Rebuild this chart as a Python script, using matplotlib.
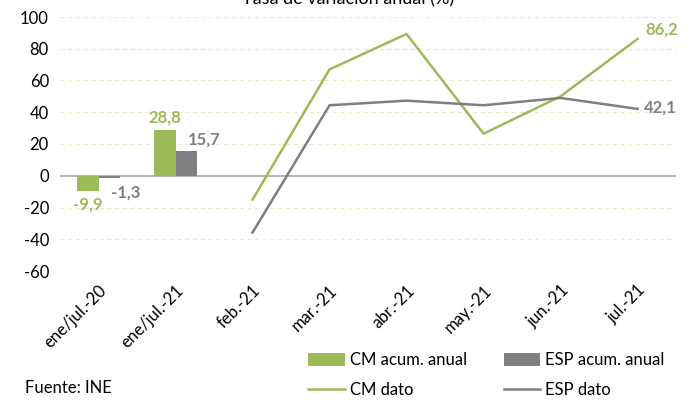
import matplotlib.pyplot as plt
import numpy as np

# categories and values
categories = ['ene/jul.-20', 'ene/jul.-21', 'feb.-21', 'mar.-21',
              'abr.-21', 'may.-21', 'jun.-21', 'jul.-21']
cm_acum = [-9.9, 28.8]
esp_acum = [-1.3, 15.7]
cm_dato = [-15.0, 67.0, 89.3, 26.5, 50.0, 86.2]
esp_dato = [-35.8, 44.4, 47.3, 44.4, 49.0, 42.1]

green = '#9BBB59'
grey = '#7F7F7F'

plt.rcParams['font.family'] = ['Lato', 'DejaVu Sans']
plt.rcParams['axes.unicode_minus'] = False

fig = plt.figure(figsize=(6.92, 4.0), dpi=100)
ax = fig.add_axes([0.0867, 0.3225, 0.8903, 0.635])

x = np.arange(len(categories))
bw = 0.28
bx = x[:len(cm_acum)]
b1 = ax.bar(bx - bw / 2, cm_acum, bw, color=green, zorder=3)
b2 = ax.bar(bx + bw / 2, esp_acum, bw, color=grey, zorder=3)

lx = x[2:]
l1, = ax.plot(lx, cm_dato, color=green, lw=1.8, zorder=4)
l2, = ax.plot(lx, esp_dato, color=grey, lw=1.8, zorder=4)

ax.set_xlim(-0.5, len(categories) - 0.5)
ax.set_ylim(-60, 100)
ax.set_yticks(range(-60, 101, 20))
for yv in range(-60, 101, 20):
    if yv != 0:
        ax.axhline(yv, color='#E6EBCF', lw=0.8, ls=(0, (4, 3)), zorder=1)
ax.axhline(0, color='#A6A6A6', lw=1.2, zorder=2)

for s in ax.spines.values():
    s.set_visible(False)
ax.tick_params(axis='both', length=0, labelsize=12, colors='black')
ax.tick_params(axis='y', pad=8)
ax.set_xticks(x)
ax.set_xticklabels(categories, rotation=45, ha='right', va='top',
                   rotation_mode='anchor', fontsize=12)
ax.tick_params(axis='x', pad=8)

# data labels
lab = dict(fontsize=12, fontweight='bold')
ax.text(bx[0] - bw / 2, cm_acum[0] - 3, '-9,9', color=green, ha='center', va='top', **lab)
ax.text(bx[0] + bw / 2 + 0.02, esp_acum[0] - 9, '-1,3', color=grey, ha='left', va='center', **lab)
ax.text(bx[1] - bw / 2, cm_acum[1] + 3, '28,8', color=green, ha='center', va='bottom', **lab)
ax.text(bx[1] + bw / 2 + 0.02, esp_acum[1] + 7, '15,7', color=grey, ha='left', va='center', **lab)
ax.text(lx[-1] + 0.1, cm_dato[-1] + 6, '86,2', color=green, ha='left', va='center', **lab)
ax.text(lx[-1] + 0.08, esp_dato[-1] + 1, '42,1', color=grey, ha='left', va='center', **lab)

fig.text(0.503, 1 - 4 / 400, 'Tasa de variación anual (%)', ha='center',
         va='baseline', fontsize=13)
fig.text(0.036, 1 - 388 / 400, 'Fuente: INE', ha='left', va='center', fontsize=12)

# column-major order so bars share the top row
fig.legend([b1, l1, b2, l2],
           ['CM acum. anual', 'CM dato', 'ESP acum. anual', 'ESP dato'],
           loc='center', bbox_to_anchor=(0.703, 1 - 375 / 400), ncol=2,
           frameon=False, fontsize=12, handlelength=2.2, handleheight=0.8,
           columnspacing=2.2, labelspacing=0.85, handletextpad=0.3)

fig.savefig('out.png', dpi=100)
